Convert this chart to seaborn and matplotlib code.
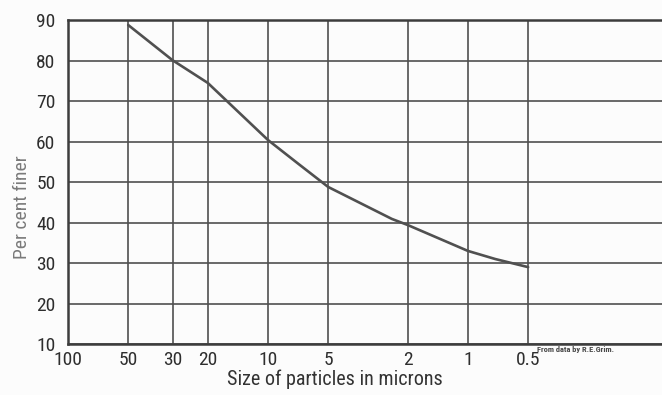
import matplotlib
matplotlib.use("Agg")
import matplotlib.pyplot as plt
from matplotlib import font_manager
from matplotlib.ticker import FixedLocator, FixedFormatter, NullLocator
import pandas as pd
import seaborn as sns

# Particle-size distribution (cumulative per cent finer)
size_microns = [50, 30, 20, 10, 7, 5, 2.4, 2, 1, 0.73, 0.5]
percent_finer = [88.8, 80.1, 74.5, 60.4, 54.4, 48.8, 40.9, 39.4, 33.0, 31.0, 29.0]

x_ticks = [100, 50, 30, 20, 10, 5, 2, 1, 0.5]
x_tick_labels = ["100", "50", "30", "20", "10", "5", "2", "1", "0.5"]
y_ticks = [10, 20, 30, 40, 50, 60, 70, 80, 90]

sns.set_theme(style="white")

available = {f.name for f in font_manager.fontManager.ttflist}
narrow = None
for cand in ["Liberation Sans Narrow", "DejaVu Sans Condensed", "Roboto Condensed", "Open Sans Condensed"]:
    if cand in available:
        narrow = cand
        break
family = [narrow, "DejaVu Sans"] if narrow else ["DejaVu Sans"]
plt.rcParams["font.family"] = family

fig = plt.figure(figsize=(6.62, 3.95), dpi=100)
fig.patch.set_facecolor("#fcfcfc")
ax = fig.add_axes([0.1027, 0.129, 0.8973, 0.82])
ax.set_facecolor("#fcfcfc")

df = pd.DataFrame({"size": size_microns, "finer": percent_finer})
sns.lineplot(data=df, x="size", y="finer", ax=ax, color="#505050", linewidth=1.9)

ax.set_xscale("log")
ax.set_xlim(100, 0.107)
ax.set_ylim(10, 90)

grid_color = "#505050"
ax.xaxis.set_major_locator(FixedLocator(x_ticks))
ax.xaxis.set_major_formatter(FixedFormatter(x_tick_labels))
ax.xaxis.set_minor_locator(NullLocator())
ax.yaxis.set_major_locator(FixedLocator(y_ticks))
ax.grid(True, which="major", color=grid_color, linewidth=1.2)

for side in ["top", "left", "bottom"]:
    ax.spines[side].set_visible(True)
    ax.spines[side].set_color("#3d3d3d")
    ax.spines[side].set_linewidth(1.8)
ax.spines["right"].set_visible(False)

ax.tick_params(axis="both", length=0, labelsize=14, colors="#2e2e2e")
ax.tick_params(axis="x", pad=5)
ax.tick_params(axis="y", pad=9)

ax.set_xlabel("Size of particles in microns", fontsize=14.5, color="#333333")
ax.xaxis.set_label_coords(0.45, -0.080)
ax.set_ylabel("Per cent finer", fontsize=14, color="#7a7a7a")
ax.yaxis.set_label_coords(-0.062, 0.423)

fig.text(0.811, 0.114, "From data by R.E.Grim.", fontsize=6, fontweight="bold",
         color="#4a4a4a", ha="left", va="center")

fig.savefig("out.png", dpi=100, facecolor=fig.get_facecolor())
